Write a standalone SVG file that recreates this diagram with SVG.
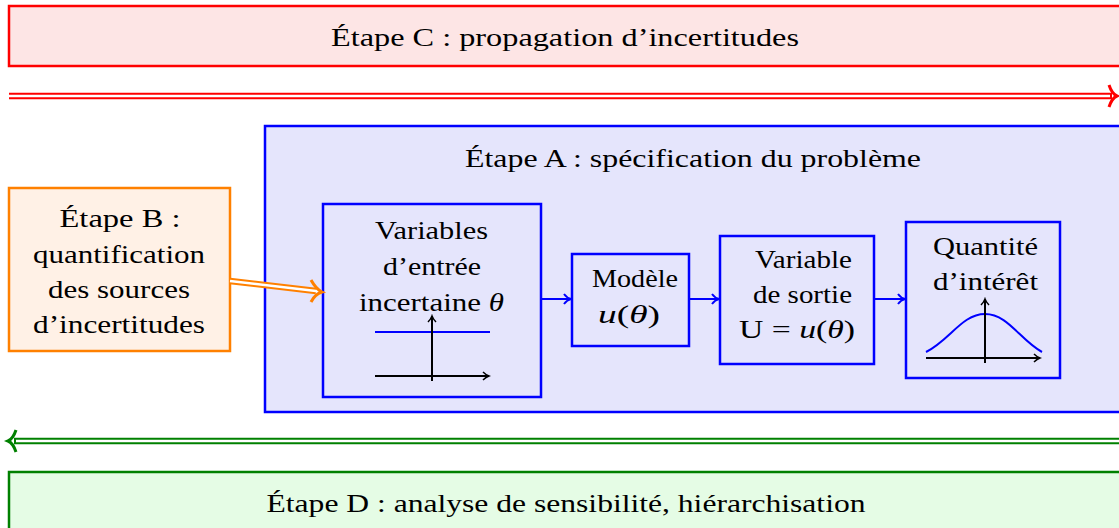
<svg xmlns="http://www.w3.org/2000/svg" width="1119" height="528" viewBox="0 0 1119 528">
<style>
text{font-family:"Liberation Serif","DejaVu Serif",serif;font-size:25px;fill:#000;text-anchor:middle}
.bx{stroke:#0000ff;stroke-width:2.5;fill:#e5e5fc}
.ax{stroke:#000;stroke-width:2;fill:none}
.bl{stroke:#0000ff;stroke-width:2;fill:none}
</style>
<defs>
<marker id="ah" markerWidth="10" markerHeight="10" refX="8" refY="5" orient="auto" markerUnits="userSpaceOnUse">
<path d="M2,1 Q5,4 8,5 Q5,6 2,9" fill="none" stroke="#000" stroke-width="1.5"/>
</marker>
<marker id="bh" markerWidth="12" markerHeight="12" refX="10" refY="6" orient="auto" markerUnits="userSpaceOnUse">
<path d="M3,1 Q6,5 10,6 Q6,7 3,11" fill="none" stroke="#0000ff" stroke-width="2"/>
</marker>
</defs>
<g id="etapeC">
<rect x="9" y="6" width="1120" height="60" fill="#fde5e5" stroke="#ff0000" stroke-width="2.5"/>
<text x="565" y="46" textLength="468" lengthAdjust="spacingAndGlyphs">Étape C : propagation d’incertitudes</text>
</g>
<g id="etapeD">
<rect x="9" y="472" width="1120" height="70" fill="#e5fce5" stroke="#008000" stroke-width="2.5"/>
<text x="566" y="512" textLength="599" lengthAdjust="spacingAndGlyphs">Étape D : analyse de sensibilité, hiérarchisation</text>
</g>
<g id="etapeA">
<rect x="265" y="126" width="870" height="286" class="bx"/>
<text x="693" y="167" textLength="456" lengthAdjust="spacingAndGlyphs">Étape A : spécification du problème</text>
</g>
<g id="etapeB">
<rect x="9" y="188" width="221" height="163" fill="#fff1e6" stroke="#ff8000" stroke-width="2.5"/>
<text x="120" y="227" textLength="121" lengthAdjust="spacingAndGlyphs">Étape B :</text>
<text x="119" y="262.5" textLength="172" lengthAdjust="spacingAndGlyphs">quantification</text>
<text x="119" y="297.5" textLength="142" lengthAdjust="spacingAndGlyphs">des sources</text>
<text x="119" y="333" textLength="172" lengthAdjust="spacingAndGlyphs">d’incertitudes</text>
</g>
<g id="entree">
<rect x="323" y="204" width="218" height="193" class="bx"/>
<text x="431.5" y="239" textLength="113" lengthAdjust="spacingAndGlyphs">Variables</text>
<text x="432" y="275" textLength="98" lengthAdjust="spacingAndGlyphs">d’entrée</text>
<text x="431.5" y="311" textLength="145" lengthAdjust="spacingAndGlyphs">incertaine <tspan font-style="italic">θ</tspan></text>
<line x1="375" y1="332" x2="490" y2="332" class="bl"/>
<line x1="375" y1="376" x2="489" y2="376" class="ax" marker-end="url(#ah)"/>
<line x1="432" y1="381" x2="432" y2="316" class="ax" marker-end="url(#ah)"/>
</g>
<g id="modele">
<rect x="572" y="254" width="117" height="92" class="bx"/>
<text x="635" y="287" textLength="86" lengthAdjust="spacingAndGlyphs">Modèle</text>
<text x="629" y="323" textLength="62" lengthAdjust="spacingAndGlyphs"><tspan font-style="italic">u</tspan>(<tspan font-style="italic">θ</tspan>)</text>
</g>
<g id="sortie">
<rect x="720" y="236" width="154" height="128" class="bx"/>
<text x="803.5" y="268" textLength="97" lengthAdjust="spacingAndGlyphs">Variable</text>
<text x="802.5" y="303" textLength="99" lengthAdjust="spacingAndGlyphs">de sortie</text>
<text x="797" y="338" textLength="116" lengthAdjust="spacingAndGlyphs">U = <tspan font-style="italic">u</tspan>(<tspan font-style="italic">θ</tspan>)</text>
</g>
<g id="quantite">
<rect x="906" y="222" width="154" height="156" class="bx"/>
<text x="985.5" y="255" textLength="105" lengthAdjust="spacingAndGlyphs">Quantité</text>
<text x="985.5" y="290" textLength="105" lengthAdjust="spacingAndGlyphs">d’intérêt</text>
<path d="M926,352 C950,340 962,314 985,314 C1008,314 1020,340 1042,352" class="bl" stroke-width="2.5"/>
<line x1="926" y1="358" x2="1040" y2="358" class="ax" marker-end="url(#ah)"/>
<line x1="985" y1="363" x2="985" y2="299" class="ax" marker-end="url(#ah)"/>
</g>
<g id="connectors">
<line x1="541" y1="299" x2="571" y2="299" class="bl" marker-end="url(#bh)"/>
<line x1="689" y1="299" x2="719" y2="299" class="bl" marker-end="url(#bh)"/>
<line x1="874" y1="299" x2="905" y2="299" class="bl" marker-end="url(#bh)"/>
<line x1="9" y1="96" x2="1112" y2="96" stroke="#ff0000" stroke-width="6.5"/>
<line x1="9" y1="96" x2="1110" y2="96" stroke="#fff" stroke-width="2.5"/>
<path d="M1109,85 Q1112,94 1117,96 Q1112,98 1109,107" fill="none" stroke="#ff0000" stroke-width="3"/>
<line x1="1119" y1="441" x2="14" y2="441" stroke="#008000" stroke-width="6.5"/>
<line x1="1119" y1="441" x2="16" y2="441" stroke="#fff" stroke-width="2.5"/>
<path d="M16,430 Q13,439 8,441 Q13,443 16,452" fill="none" stroke="#008000" stroke-width="3"/>
<line x1="230" y1="281" x2="316" y2="291" stroke="#ff8000" stroke-width="6.5"/>
<line x1="230" y1="281" x2="318" y2="291.3" stroke="#fff" stroke-width="2.5"/>
<path d="M311,280 Q316,289 322,292 Q315,294 311,302" fill="none" stroke="#ff8000" stroke-width="3"/>
</g>
</svg>
